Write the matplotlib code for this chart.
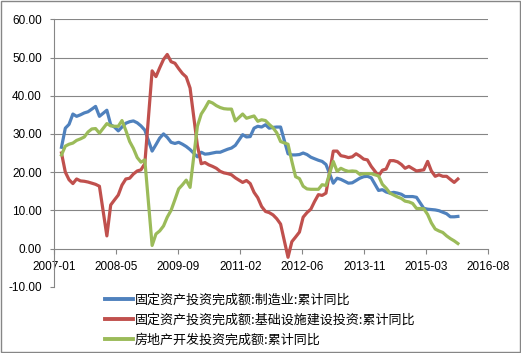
import matplotlib
matplotlib.use('Agg')
import matplotlib.pyplot as plt
from matplotlib.patches import Rectangle
from matplotlib.ticker import FuncFormatter
import pandas as pd
import numpy as np

plt.rcParams['font.family'] = ['Liberation Sans', 'DejaVu Sans']

# monthly cumulative data (January not published): 2007-02 ... 2015-11
months = [f"{y}-{m:02d}" for y in range(2007, 2016) for m in range(2, 13)][:-1]

manufacturing = [
    26.5, 31.5, 32.5, 35.2, 34.6, 35.0, 35.5, 35.8, 36.5, 37.2, 34.6,
    36.2, 32.4, 31.8, 30.8, 31.8, 32.8, 33.2, 33.4, 32.9, 32.1, 31.0,
    25.5, 27.2, 28.9, 30.0, 29.1, 27.8, 27.5, 27.8, 27.3, 26.7, 25.9,
    24.0, 25.2, 24.7, 24.8, 25.0, 25.2, 25.2, 25.6, 26.0, 26.3, 27.0,
    29.8, 29.2, 29.3, 31.5, 32.0, 31.8, 32.4, 31.5, 31.7, 31.8, 31.8,
    24.8, 24.5, 24.5, 24.6, 25.0, 24.6, 23.9, 23.5, 23.1, 22.8, 22.0,
    17.1, 18.4, 18.1, 17.6, 17.1, 17.2, 17.8, 18.4, 18.8, 18.9, 18.5,
    15.2, 15.4, 14.8, 14.5, 14.7, 14.5, 14.2, 13.6, 13.6, 13.6, 13.4,
    10.5, 10.3, 10.2, 10.1, 9.9, 9.5, 9.1, 8.3, 8.3, 8.4,
]

infrastructure = [
    25.0, 20.0, 18.0, 17.0, 18.2, 17.7, 17.6, 17.4, 17.1, 16.8, 16.3,
    3.3, 11.4, 12.7, 14.0, 16.6, 18.2, 18.4, 19.5, 20.3, 20.6, 22.2,
    46.5, 45.0, 47.3, 49.5, 50.8, 48.9, 48.5, 47.1, 45.8, 44.9, 42.0,
    27.0, 22.2, 22.5, 21.9, 21.5, 21.0, 20.2, 19.8, 19.6, 19.3, 18.5,
    17.3, 17.8, 17.0, 14.7, 13.3, 11.0, 9.7, 9.4, 8.8, 7.8, 6.4,
    -2.3, 1.8, 3.0, 4.3, 8.2, 9.4, 10.3, 12.3, 14.1, 13.9, 14.5,
    25.5, 25.5, 24.3, 24.1, 23.8, 24.0, 24.8, 24.2, 23.4, 23.2, 21.5,
    19.0, 20.5, 20.8, 23.0, 23.0, 22.7, 22.0, 21.0, 21.5, 20.9, 20.3,
    20.6, 22.8, 20.3, 18.9, 19.3, 18.9, 18.9, 18.1, 17.3, 18.2,
]

real_estate = [
    24.5, 26.8, 27.3, 27.6, 28.3, 28.7, 29.2, 30.5, 31.3, 31.4, 30.2,
    32.7, 32.1, 32.0, 32.0, 33.5, 30.9, 28.0, 26.2, 23.8, 22.6, 23.2,
    0.8, 3.8, 4.6, 5.9, 8.2, 10.0, 12.8, 15.6, 16.7, 17.9, 16.0,
    32.0, 35.2, 36.7, 38.5, 38.1, 37.4, 36.9, 36.6, 36.5, 36.5, 33.4,
    35.2, 34.1, 34.4, 34.7, 33.3, 33.7, 33.5, 32.5, 31.6, 30.3, 28.0,
    27.3, 22.8, 18.8, 18.3, 16.3, 15.6, 15.5, 15.5, 15.5, 16.7, 16.5,
    22.8, 20.2, 21.0, 20.5, 20.2, 20.3, 20.2, 19.4, 19.6, 19.6, 19.6,
    19.0, 16.8, 15.8, 14.5, 14.0, 13.5, 13.1, 12.4, 12.2, 11.8, 10.5,
    10.4, 8.9, 6.7, 5.1, 4.6, 4.2, 3.3, 2.6, 2.0, 1.3,
]

series_names = [
    "固定资产投资完成额:制造业:累计同比",
    "固定资产投资完成额:基础设施建设投资:累计同比",
    "房地产开发投资完成额:累计同比",
]
colors = ['#4F81BD', '#C0504D', '#9BBB59']

x_tick_labels = ['2007-01', '2008-05', '2009-09', '2011-02',
                 '2012-06', '2013-11', '2015-03', '2016-08']
y_ticks = [-10, 0, 10, 20, 30, 40, 50, 60]

dates = pd.to_datetime(months) + pd.offsets.MonthEnd(0)
axis_start = pd.Timestamp('2007-01-01')
tick_pos = [axis_start + pd.Timedelta(days=500 * i) for i in range(len(x_tick_labels))]

fig = plt.figure(figsize=(5.21, 3.53), dpi=100)
ax = fig.add_axes([0.1042, 0.1878, 0.833, 0.7575])

grid_c = '#868686'
for v in y_ticks:
    if v > 0:
        ax.axhline(v, color=grid_c, lw=0.8, zorder=0.5)

for vals, name, c in zip([manufacturing, infrastructure, real_estate], series_names, colors):
    ax.plot(dates, vals, color=c, lw=2.3, label=name, solid_joinstyle='round', zorder=3)

ax.set_xlim(tick_pos[0], tick_pos[-1])
ax.set_ylim(-10, 60)
ax.set_xticks(tick_pos)
ax.set_xticklabels(x_tick_labels)
ax.set_yticks(y_ticks)
ax.yaxis.set_major_formatter(FuncFormatter(lambda v, p: f"{v:.2f}"))

ax.spines['top'].set_visible(False)
ax.spines['right'].set_visible(False)
ax.spines['bottom'].set_position(('data', 0))
for s in ['left', 'bottom']:
    ax.spines[s].set_color(grid_c)
    ax.spines[s].set_linewidth(0.8)
ax.tick_params(axis='both', direction='out', color=grid_c, width=0.8,
               labelsize=8.5, labelcolor='#000000')
ax.tick_params(axis='x', length=3.8, pad=5.5)
ax.tick_params(axis='y', length=3.0, pad=6.0)

leg = fig.legend(loc='upper left', bbox_to_anchor=(0.2015, 0.168),
                 frameon=False, borderpad=0, borderaxespad=0,
                 handlelength=2.15, handletextpad=0.15, labelspacing=0.52,
                 prop={'family': ['Noto Sans CJK SC', 'DejaVu Sans'], 'size': 9.4})
for line in leg.get_lines():
    line.set_linewidth(2.8)

fig.add_artist(Rectangle((0.001, 0.0015), 0.997, 0.996, transform=fig.transFigure,
                         fill=False, ec=grid_c, lw=1.0))

fig.savefig('out.png', dpi=100)
